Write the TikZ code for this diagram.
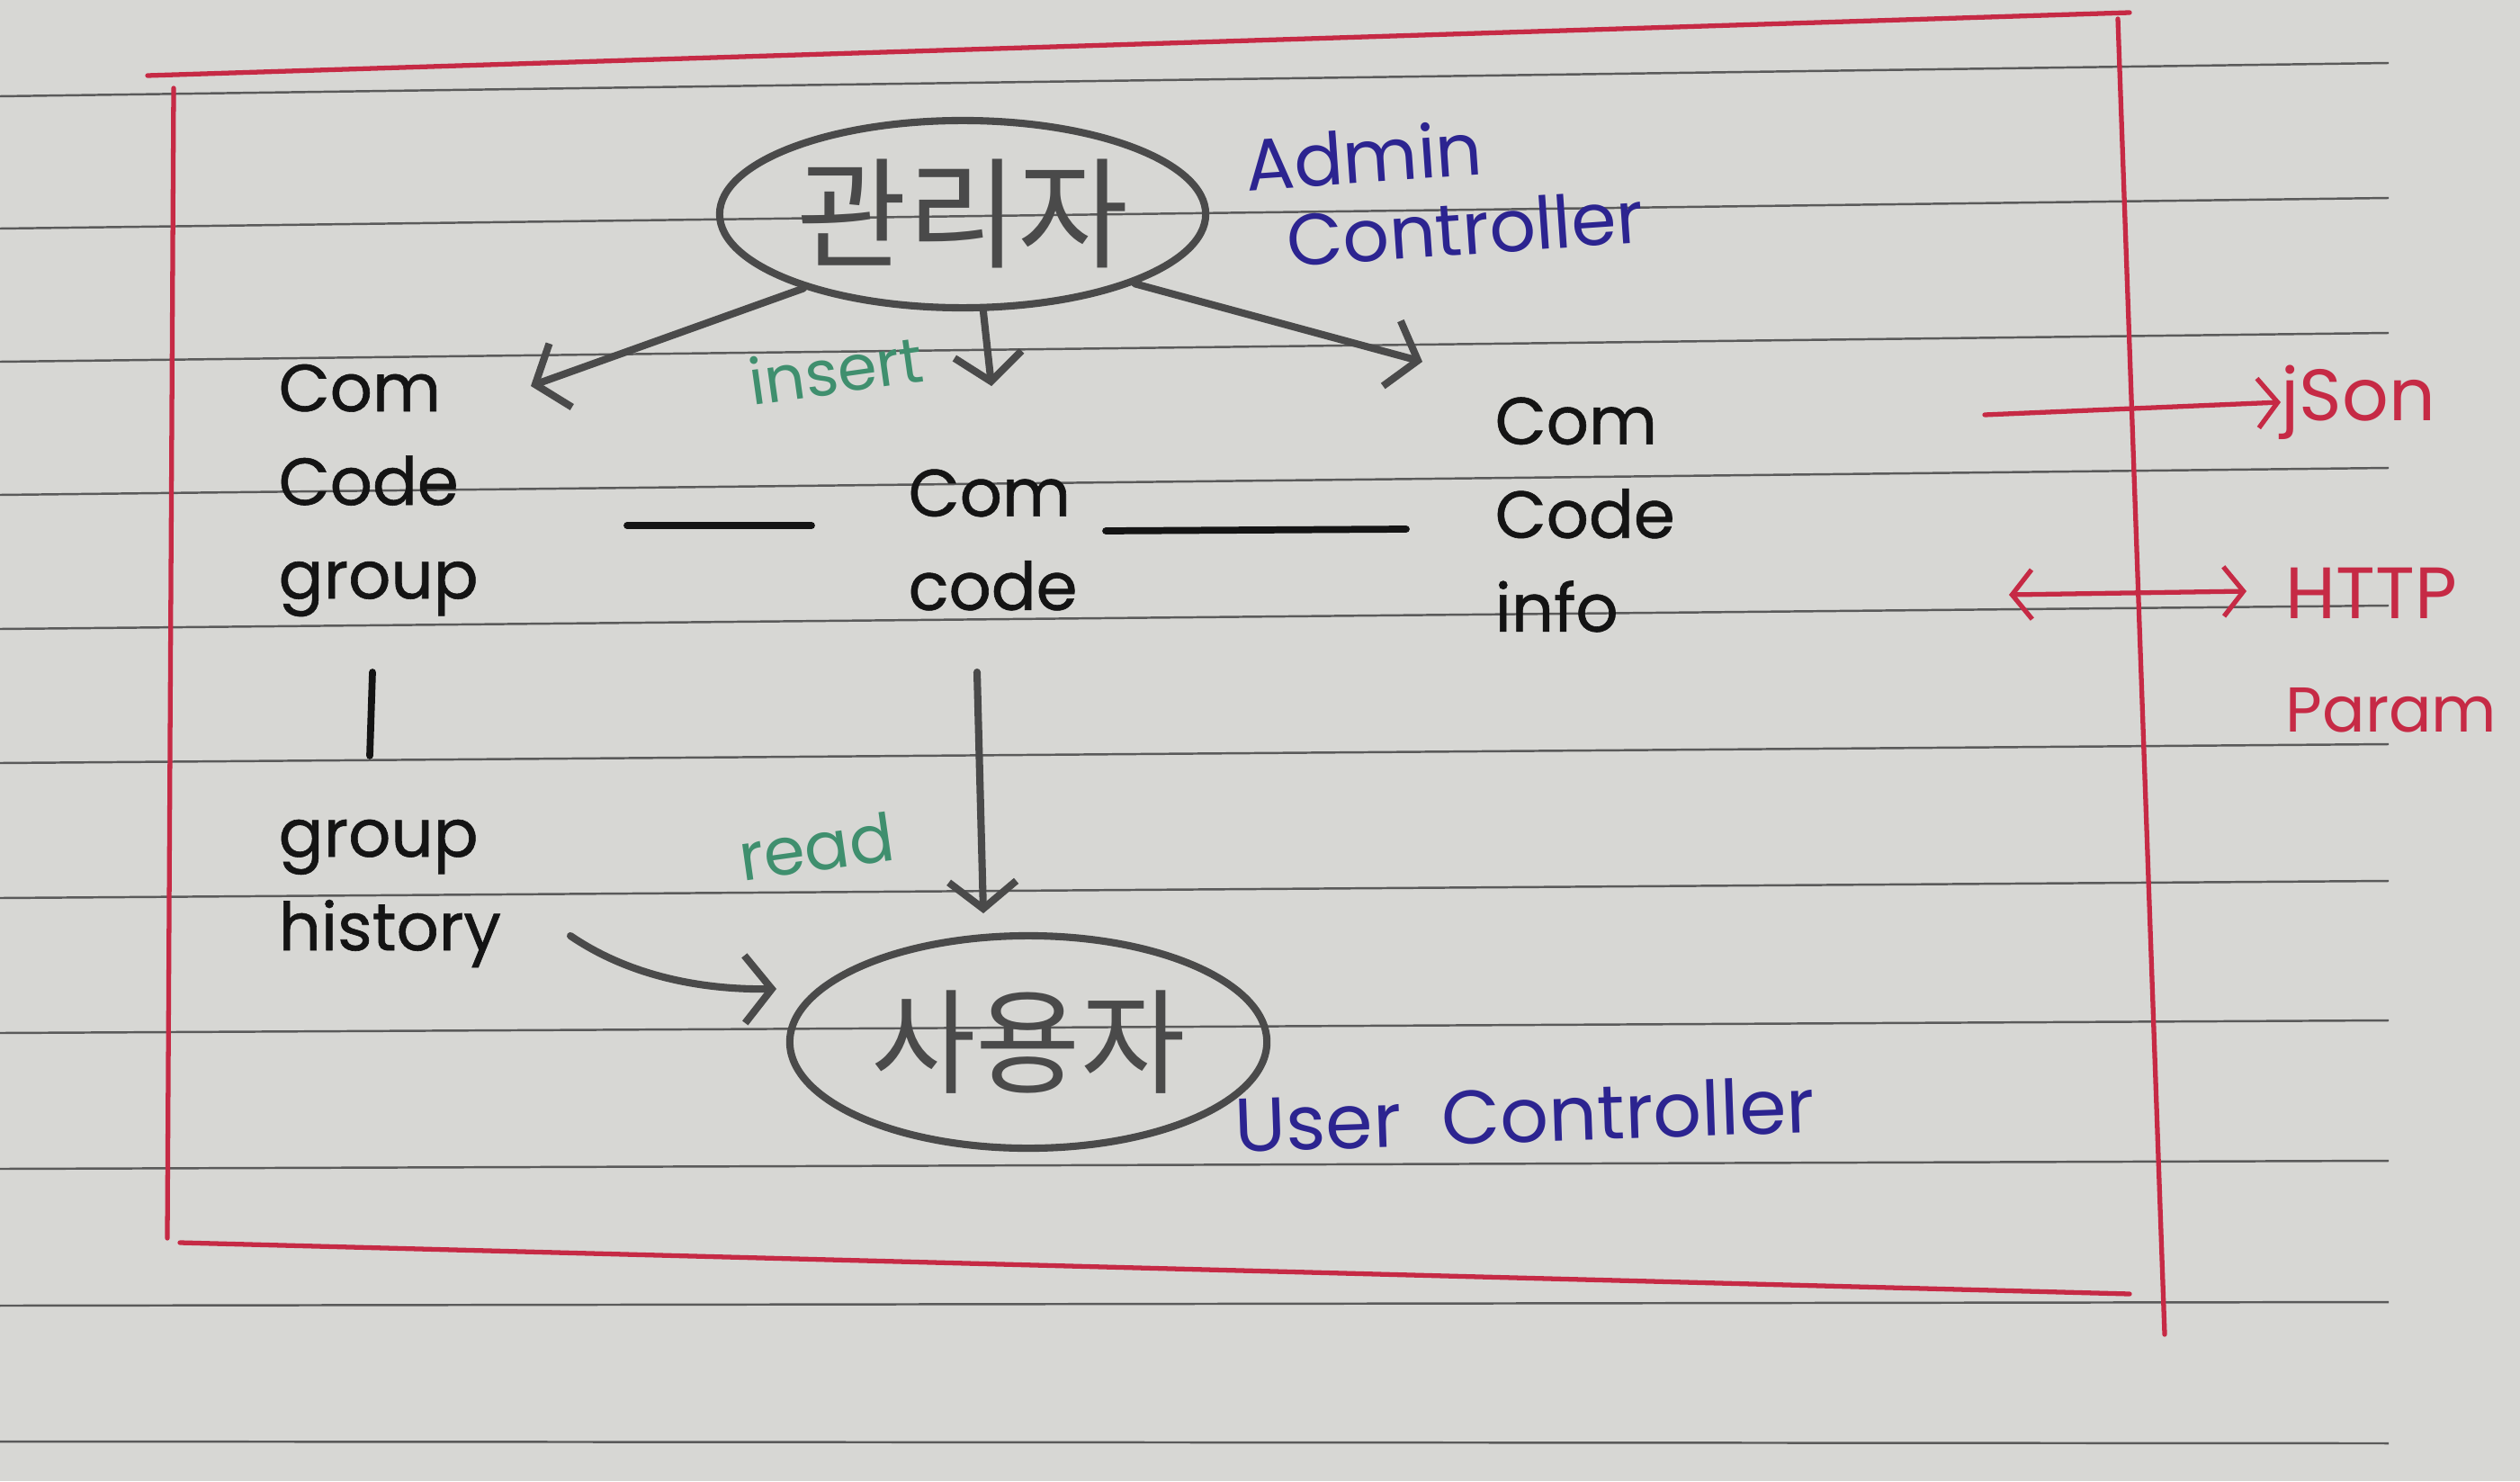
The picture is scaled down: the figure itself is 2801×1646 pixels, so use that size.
\documentclass[tikz,border=0pt]{standalone}
\usepackage{fontspec}
\setmainfont{Poppins}
\newfontfamily\inkfont{Poppins}[FakeBold=0.8]
\newfontfamily\krfont{Noto Sans CJK KR}
\usetikzlibrary{shapes.geometric,arrows.meta}
\definecolor{paper}{HTML}{D7D7D4}
\definecolor{rule}{HTML}{5A5A5A}
\definecolor{pencilc}{HTML}{4A4A4A}
\definecolor{ink}{HTML}{141414}
\definecolor{bluepen}{HTML}{2C2490}
\definecolor{greenpen}{HTML}{3F8F6E}
\definecolor{redpen}{HTML}{C62A45}
\tikzset{
  pencil/.style={draw=pencilc, line width=2.3pt, line cap=round, line join=round},
  parrow/.style={pencil, -{Straight Barb[length=0.3cm,width=0.75cm,line width=2.3pt]}},
  inkline/.style={draw=ink, line width=2.2pt, line cap=round},
  redline/.style={draw=redpen, line width=1.5pt, line cap=round},
  rarrow/.style={redline, -{Straight Barb[length=0.22cm,width=0.55cm,line width=1.5pt]}},
  rdarrow/.style={redline, {Straight Barb[length=0.22cm,width=0.55cm,line width=1.5pt]}-{Straight Barb[length=0.22cm,width=0.55cm,line width=1.5pt]}},
  bubble/.style={ellipse, pencil, inner sep=0pt, text=pencilc},
  blk/.style={font=\inkfont\fontsize{21}{29.6}\selectfont, text=ink, align=left, inner sep=0pt},
  bluet/.style={font=\fontsize{23}{25}\selectfont, text=bluepen, align=left, inner sep=0pt},
  greent/.style={font=\fontsize{20}{24}\selectfont, text=greenpen, inner sep=0pt},
  redt/.style={font=\fontsize{23}{36}\selectfont, text=redpen, align=left, inner sep=0pt},
}
\begin{document}
\begin{tikzpicture}[x=0.01cm,y=-0.01cm]
\useasboundingbox (0,0) rectangle (2801,1646);
\fill[paper] (0,0) rectangle (2801,1646);
% ruled paper lines
\foreach \l/\r in {107/70,254/220,402/370,550/520,699/673,848/827,998/979,1148/1134,1299/1290,1451/1447,1602/1604}
  \draw[rule, line width=0.7pt] (0,\l) -- (2655,\r);

% red frame
\draw[redline] (164,84) -- (2367,14);
\draw[redline] (193,98) -- (186,1376);
\draw[redline] (200,1381) -- (2367,1438);
\draw[redline] (2354,21) -- (2406,1483);

% main nodes
\node[bubble, minimum width=5.4cm, minimum height=2.08cm, font=\krfont\fontsize{38}{40}\selectfont] (admin) at (1070,238) {관리자};
\node[bubble, minimum width=5.3cm, minimum height=2.36cm, font=\krfont\fontsize{36}{40}\selectfont] (user) at (1143,1158) {사용자};

\node[bluet, anchor=north west, rotate=4] (adminctl) at (1381,150) {Admin\\\hspace*{0.4cm}Controller};
\node[bluet, anchor=west, rotate=2, font=\fontsize{24}{24}\selectfont] (userctl) at (1372,1250) {User\ \ Controller};

\node[blk, anchor=west] (ccg) at (309,545) {Com\\Code\\group};
\node[blk, anchor=west] (cc) at (1009,600) {Com\\code};
\node[blk, anchor=west] (cci) at (1661,572) {Com\\Code\\info};
\node[blk, anchor=west] (gh) at (309,993) {group\\history};

\node[greent, rotate=8] (insertlbl) at (929,411) {insert};
\node[greent, rotate=8, font=\fontsize{21}{24}\selectfont] (readlbl) at (907,941) {read};

\node[redt, anchor=west] (json) at (2535,447) {jSon};
\node[redt, anchor=north west] (http) at (2540,630) {HTTP\\{\fontsize{20}{20}\selectfont Param}};

% free ends
\coordinate (tipL) at (590,429);
\coordinate (tipD) at (1102,429);
\coordinate (tipR) at (1581,402);
\coordinate (g1) at (697,584);
\coordinate (g2) at (902,584);
\coordinate (i1) at (1229,590);
\coordinate (i2) at (1563,588);
\coordinate (v1) at (414,747);
\coordinate (v2) at (411,840);
\coordinate (r1) at (1086,747);
\coordinate (r2) at (1093,1015);
\coordinate (h1) at (634,1040);
\coordinate (h2) at (863,1099);
\coordinate (j1) at (2206,461);
\coordinate (p1) at (2233,661);
\coordinate (p2) at (2497,657);

% connectors
\draw[parrow] (admin.205) -- (tipL);
\draw[parrow] (admin.282) -- (tipD);
\draw[parrow] (admin.338) -- (tipR);
\draw[inkline] (g1) -- (g2);
\draw[inkline] (i1) -- (i2);
\draw[inkline] (v1) -- (v2);
\draw[parrow] (r1) -- (r2);
\draw[parrow] (h1) .. controls (700,1085) and (780,1100) .. (h2);
\draw[rarrow] (j1) -- (json.west);
\draw[rdarrow] (p1) -- (p2);
\end{tikzpicture}
\end{document}
